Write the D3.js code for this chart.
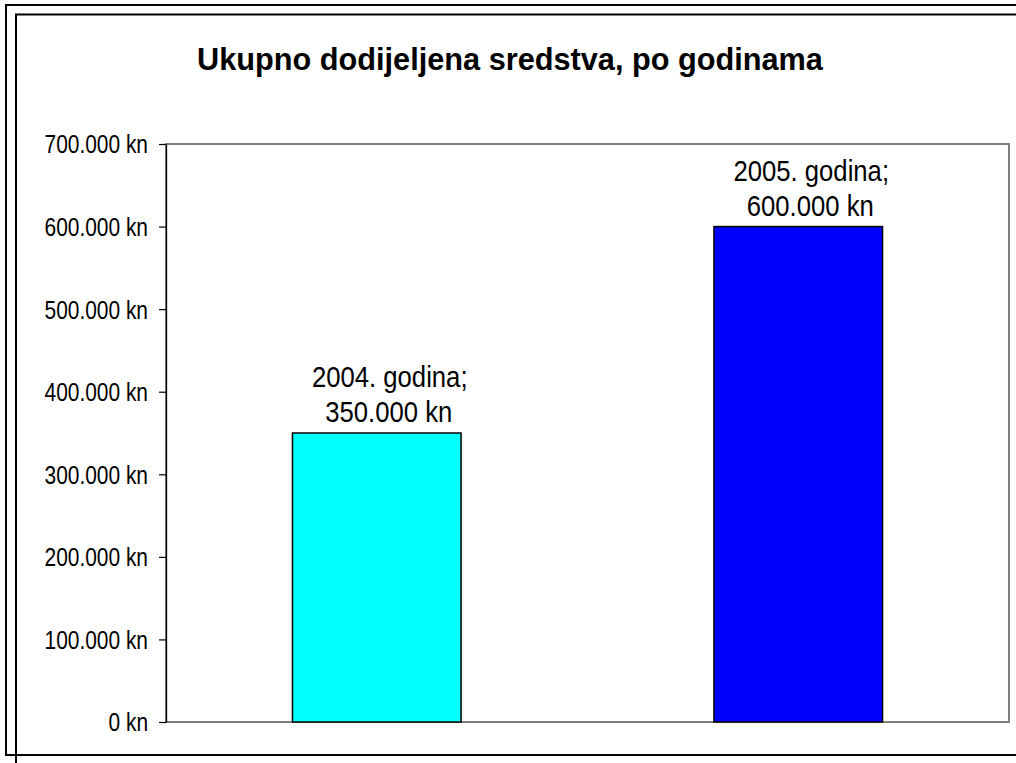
<!DOCTYPE html>
<html>
<head>
<meta charset="utf-8">
<script src="https://cdn.jsdelivr.net/npm/d3@7"></script>
<style>
  html, body { margin: 0; padding: 0; background: #fff; }
  svg { display: block; }
</style>
</head>
<body>
<svg id="chart" width="1016" height="763"></svg>
<script>
// ---- data ----
const categories = ["2004. godina", "2005. godina"];
const values = [350000, 600000];
const barColors = ["#00FFFF", "#0000FF"];
const yTicks = [0, 100000, 200000, 300000, 400000, 500000, 600000, 700000];
const title = "Ukupno dodijeljena sredstva, po godinama";

const fmt = v => d3.format(",")(v).replace(/,/g, ".") + " kn";

const svg = d3.select("#chart");
const sans = "'Liberation Sans', Arial, sans-serif";

function condense(factor) {
  return sel => sel.each(function () {
    const len = this.getComputedTextLength();
    d3.select(this).attr("textLength", len * factor).attr("lengthAdjust", "spacingAndGlyphs");
  });
}

// outer frames (extend beyond the viewport, as in the reference)
svg.append("rect").attr("x", 6).attr("y", 5).attr("width", 1100).attr("height", 750)
  .attr("fill", "none").attr("stroke", "#000").attr("stroke-width", 2);
svg.append("rect").attr("x", 16).attr("y", 14.5).attr("width", 1100).attr("height", 800)
  .attr("fill", "none").attr("stroke", "#000").attr("stroke-width", 2);

// title
svg.append("text").attr("x", 510).attr("y", 70).attr("text-anchor", "middle")
  .attr("font-family", sans).attr("font-weight", "bold")
  .attr("font-size", 30.7).attr("fill", "#000").text(title);

// plot area
const plot = { left: 166, top: 144, right: 1009, bottom: 722 };

const x = d3.scaleBand().domain(categories).range([plot.left, plot.right])
  .paddingInner(0.6).paddingOuter(0.3);
const y = d3.scaleLinear().domain([0, 700000]).range([plot.bottom, plot.top]);

// plot border (gray)
svg.append("rect").attr("x", plot.left).attr("y", plot.top)
  .attr("width", plot.right - plot.left).attr("height", plot.bottom - plot.top)
  .attr("fill", "#fff").attr("stroke", "#808080").attr("stroke-width", 2);

// bars
svg.append("g").selectAll("rect").data(values).join("rect")
  .attr("x", (d, i) => x(categories[i]))
  .attr("y", d => y(d))
  .attr("width", x.bandwidth())
  .attr("height", d => y(0) - y(d))
  .attr("fill", (d, i) => barColors[i])
  .attr("stroke", "#000").attr("stroke-width", 1.5);

// y axis
const yAxis = d3.axisLeft(y).tickValues(yTicks).tickFormat(fmt).tickSizeInner(7).tickSizeOuter(0).tickPadding(11);
const gy = svg.append("g").attr("transform", `translate(${plot.left},0)`).call(yAxis);
gy.select(".domain").attr("stroke", "#000").attr("stroke-width", 1.3);
gy.selectAll(".tick line").attr("stroke", "#000").attr("stroke-width", 1.2);
gy.selectAll(".tick text").attr("font-family", sans).attr("font-size", 25.5).attr("fill", "#000")
  .attr("dy", "0.35em").call(condense(0.82));

// data labels (two lines each)
const lg = svg.append("g").attr("font-family", sans).attr("font-size", 29.5).attr("fill", "#000");
lg.selectAll("text.l1").data(values).join("text").attr("class", "l1")
  .attr("text-anchor", "middle")
  .attr("x", (d, i) => x(categories[i]) + x.bandwidth() / 2 + 13)
  .attr("y", d => y(d) - 46)
  .text((d, i) => categories[i] + ";").call(condense(0.87));
lg.selectAll("text.l2").data(values).join("text").attr("class", "l2")
  .attr("text-anchor", "middle")
  .attr("x", (d, i) => x(categories[i]) + x.bandwidth() / 2 + 12)
  .attr("y", d => y(d) - 11)
  .text(d => fmt(d)).call(condense(0.87));
</script>
</body>
</html>
